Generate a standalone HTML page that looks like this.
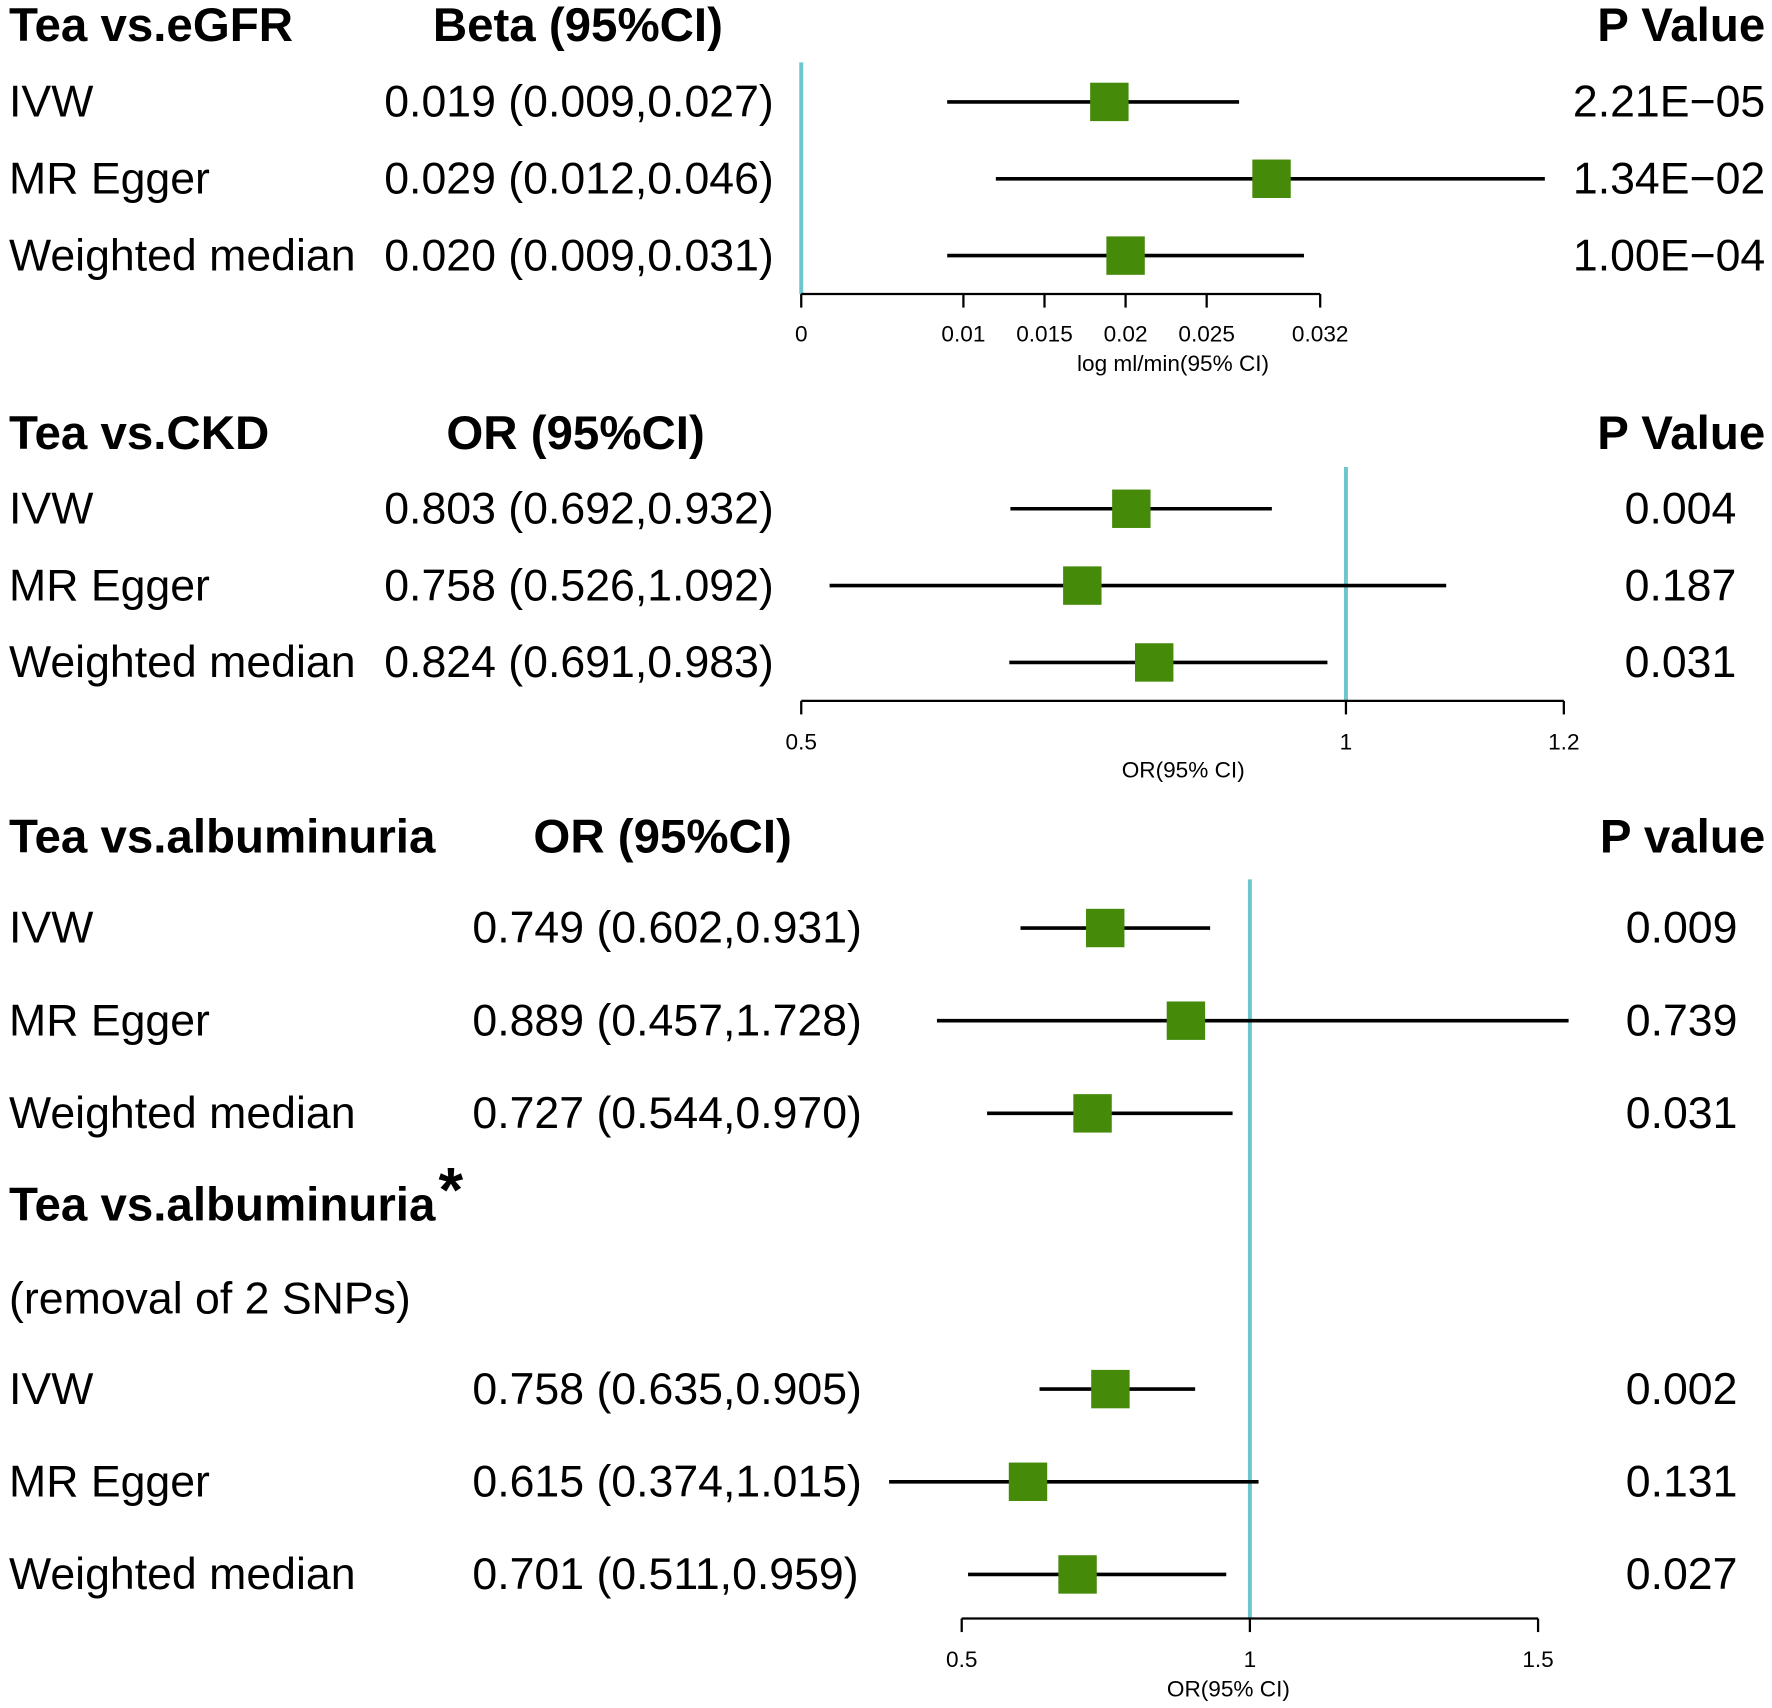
<!DOCTYPE html>
<html><head><meta charset="utf-8"><style>
html,body{margin:0;padding:0;background:#fff;}
svg{display:block;}
text{font-family:"Liberation Sans",Arial,sans-serif;fill:#000;}
.b{font-weight:bold;font-size:42px;}
.r{font-size:39.5px;}
.t{font-size:20px;}
</style></head><body>
<svg id="chart" width="1772" height="1708" viewBox="0 0 1568 1511" xmlns="http://www.w3.org/2000/svg">
<g id="static">
<text class="b" x="8" y="36">Tea vs.eGFR</text>
<text class="b" x="383" y="36">Beta (95%CI)</text>
<text class="b" x="1562" y="36" text-anchor="end">P Value</text>
<text class="b" x="8" y="397">Tea vs.CKD</text>
<text class="b" x="395" y="397">OR (95%CI)</text>
<text class="b" x="1562" y="397" text-anchor="end">P Value</text>
<text class="b" x="8" y="754">Tea vs.albuminuria</text>
<text class="b" x="472" y="754">OR (95%CI)</text>
<text class="b" x="1562" y="754" text-anchor="end">P value</text>
<text class="b" x="8" y="1080">Tea vs.albuminuria</text>
<text x="388" y="1072" style="font-size:56px;font-weight:bold">*</text>
<text class="r" x="8" y="1162">(removal of 2 SNPs)</text>
</g>
<g id="marks"></g>
</svg>
<script>
// Panel 1: Tea vs eGFR (Beta)
const p1Labels = ["IVW","MR Egger","Weighted median"];
const p1Est = [0.019,0.029,0.020];
const p1Lo = [0.009,0.012,0.009];
const p1Hi = [0.027,0.046,0.031];
const p1Text = ["0.019 (0.009,0.027)","0.029 (0.012,0.046)","0.020 (0.009,0.031)"];
const p1P = ["2.21E\u221205","1.34E\u221202","1.00E\u221204"];
const p1Ticks = [0,0.01,0.015,0.02,0.025,0.032];
const p1TickLabels = ["0","0.01","0.015","0.02","0.025","0.032"];
// Panel 2: Tea vs CKD (OR)
const p2Labels = ["IVW","MR Egger","Weighted median"];
const p2Est = [0.803,0.758,0.824];
const p2Lo = [0.692,0.526,0.691];
const p2Hi = [0.932,1.092,0.983];
const p2Text = ["0.803 (0.692,0.932)","0.758 (0.526,1.092)","0.824 (0.691,0.983)"];
const p2P = ["0.004","0.187","0.031"];
const p2Ticks = [0.5,1,1.2];
const p2TickLabels = ["0.5","1","1.2"];
// Panel 3: Tea vs albuminuria (OR), incl. removal of 2 SNPs
const p3Labels = ["IVW","MR Egger","Weighted median","IVW","MR Egger","Weighted median"];
const p3Est = [0.749,0.889,0.727,0.758,0.615,0.701];
const p3Lo = [0.602,0.457,0.544,0.635,0.374,0.511];
const p3Hi = [0.931,1.728,0.970,0.905,1.015,0.959];
const p3Text = ["0.749 (0.602,0.931)","0.889 (0.457,1.728)","0.727 (0.544,0.970)","0.758 (0.635,0.905)","0.615 (0.374,1.015)","0.701 (0.511,0.959)"];
const p3P = ["0.009","0.739","0.031","0.002","0.131","0.027"];
const p3Ticks = [0.5,1,1.5];
const p3TickLabels = ["0.5","1","1.5"];

const NS="http://www.w3.org/2000/svg";
const g=document.getElementById('marks');
function mk(tag,attrs,parent){const e=document.createElementNS(NS,tag);for(const k in attrs)e.setAttribute(k,attrs[k]);(parent||g).appendChild(e);return e;}
function txt(s,x,y,cls,anchor,parent){const e=mk('text',{x:x,y:y,class:cls,'text-anchor':anchor||'start'},parent);e.textContent=s;return e;}

const panels=[
 {labels:p1Labels,est:p1Est,lo:p1Lo,hi:p1Hi,text:p1Text,p:p1P,ticks:p1Ticks,tl:p1TickLabels,
  x:v=>709+(v-0)*14350, clipL:700, clipR:1367, rows:[90,158,226], ciX:340, pX:1562, pAnchor:'end',
  ref:0, refTop:55, refBot:260, axisY:260, tickDir:1, tickLblY:302, title:"log ml/min(95% CI)", titleY:328, titleX:1038, name:'egfr'},
 {labels:p2Labels,est:p2Est,lo:p2Lo,hi:p2Hi,text:p2Text,p:p2P,ticks:p2Ticks,tl:p2TickLabels,
  x:v=>709+(v-0.5)*964, clipL:700, clipR:1400, rows:[450,518,586], ciX:340, pX:1487, pAnchor:'middle',
  ref:1, refTop:413, refBot:620, axisY:620, tickDir:1, tickLblY:663, title:"OR(95% CI)", titleY:688, titleX:1047, name:'ckd'},
 {labels:p3Labels,est:p3Est,lo:p3Lo,hi:p3Hi,text:p3Text,p:p3P,ticks:p3Ticks,tl:p3TickLabels,
  x:v=>851+(v-0.5)*510, clipL:780, clipR:1388, rows:[821,903,985,1229,1311,1393], ciX:418, pX:1488, pAnchor:'middle',
  ref:1, refTop:778, refBot:1432, axisY:1432, tickDir:1, tickLblY:1475, title:"OR(95% CI)", titleY:1501, titleX:1087, name:'albuminuria'}
];

panels.forEach(P=>{
  const pg=mk('g',{});
  
  
  const rl=mk('line',{x1:P.x(P.ref),x2:P.x(P.ref),y1:P.refTop,y2:P.refBot,stroke:'#6ec6cc','stroke-width':3.5},pg);
  
  
  const t0=P.x(P.ticks[0]), t1=P.x(P.ticks[P.ticks.length-1]);
  const ax=mk('line',{x1:t0,x2:t1,y1:P.axisY,y2:P.axisY,stroke:'#000','stroke-width':2},pg);
  
  
  P.ticks.forEach((v,i)=>{
    const tk=mk('line',{x1:P.x(v),x2:P.x(v),y1:P.axisY,y2:P.axisY+12*P.tickDir,stroke:'#000','stroke-width':2},pg);
    
    
    const tl=txt(P.tl[i],P.x(v),P.tickLblY,'t','middle',pg);
    
    
  });
  const at=txt(P.title,P.titleX,P.titleY,'t','middle',pg);
  
  
  P.est.forEach((e,i)=>{
    const y=P.rows[i];
    const lb=txt(P.labels[i],8,y+13,'r','start',pg);
    
    
    const ci=txt(P.text[i],P.ciX,y+13,'r','start',pg);
    
    
    const pv=txt(P.p[i],P.pX,y+13,'r',P.pAnchor,pg);
    
    
    const xl=Math.max(P.clipL,P.x(P.lo[i])), xr=Math.min(P.clipR,P.x(P.hi[i]));
    const ln=mk('line',{x1:xl,x2:xr,y1:y,y2:y,stroke:'#000','stroke-width':3.2},pg);
    
    
    const sq=mk('rect',{x:P.x(e)-17,y:y-17,width:34,height:34,fill:'#468a0a'},pg);
    
    
  });
});
</script>
</body></html>
